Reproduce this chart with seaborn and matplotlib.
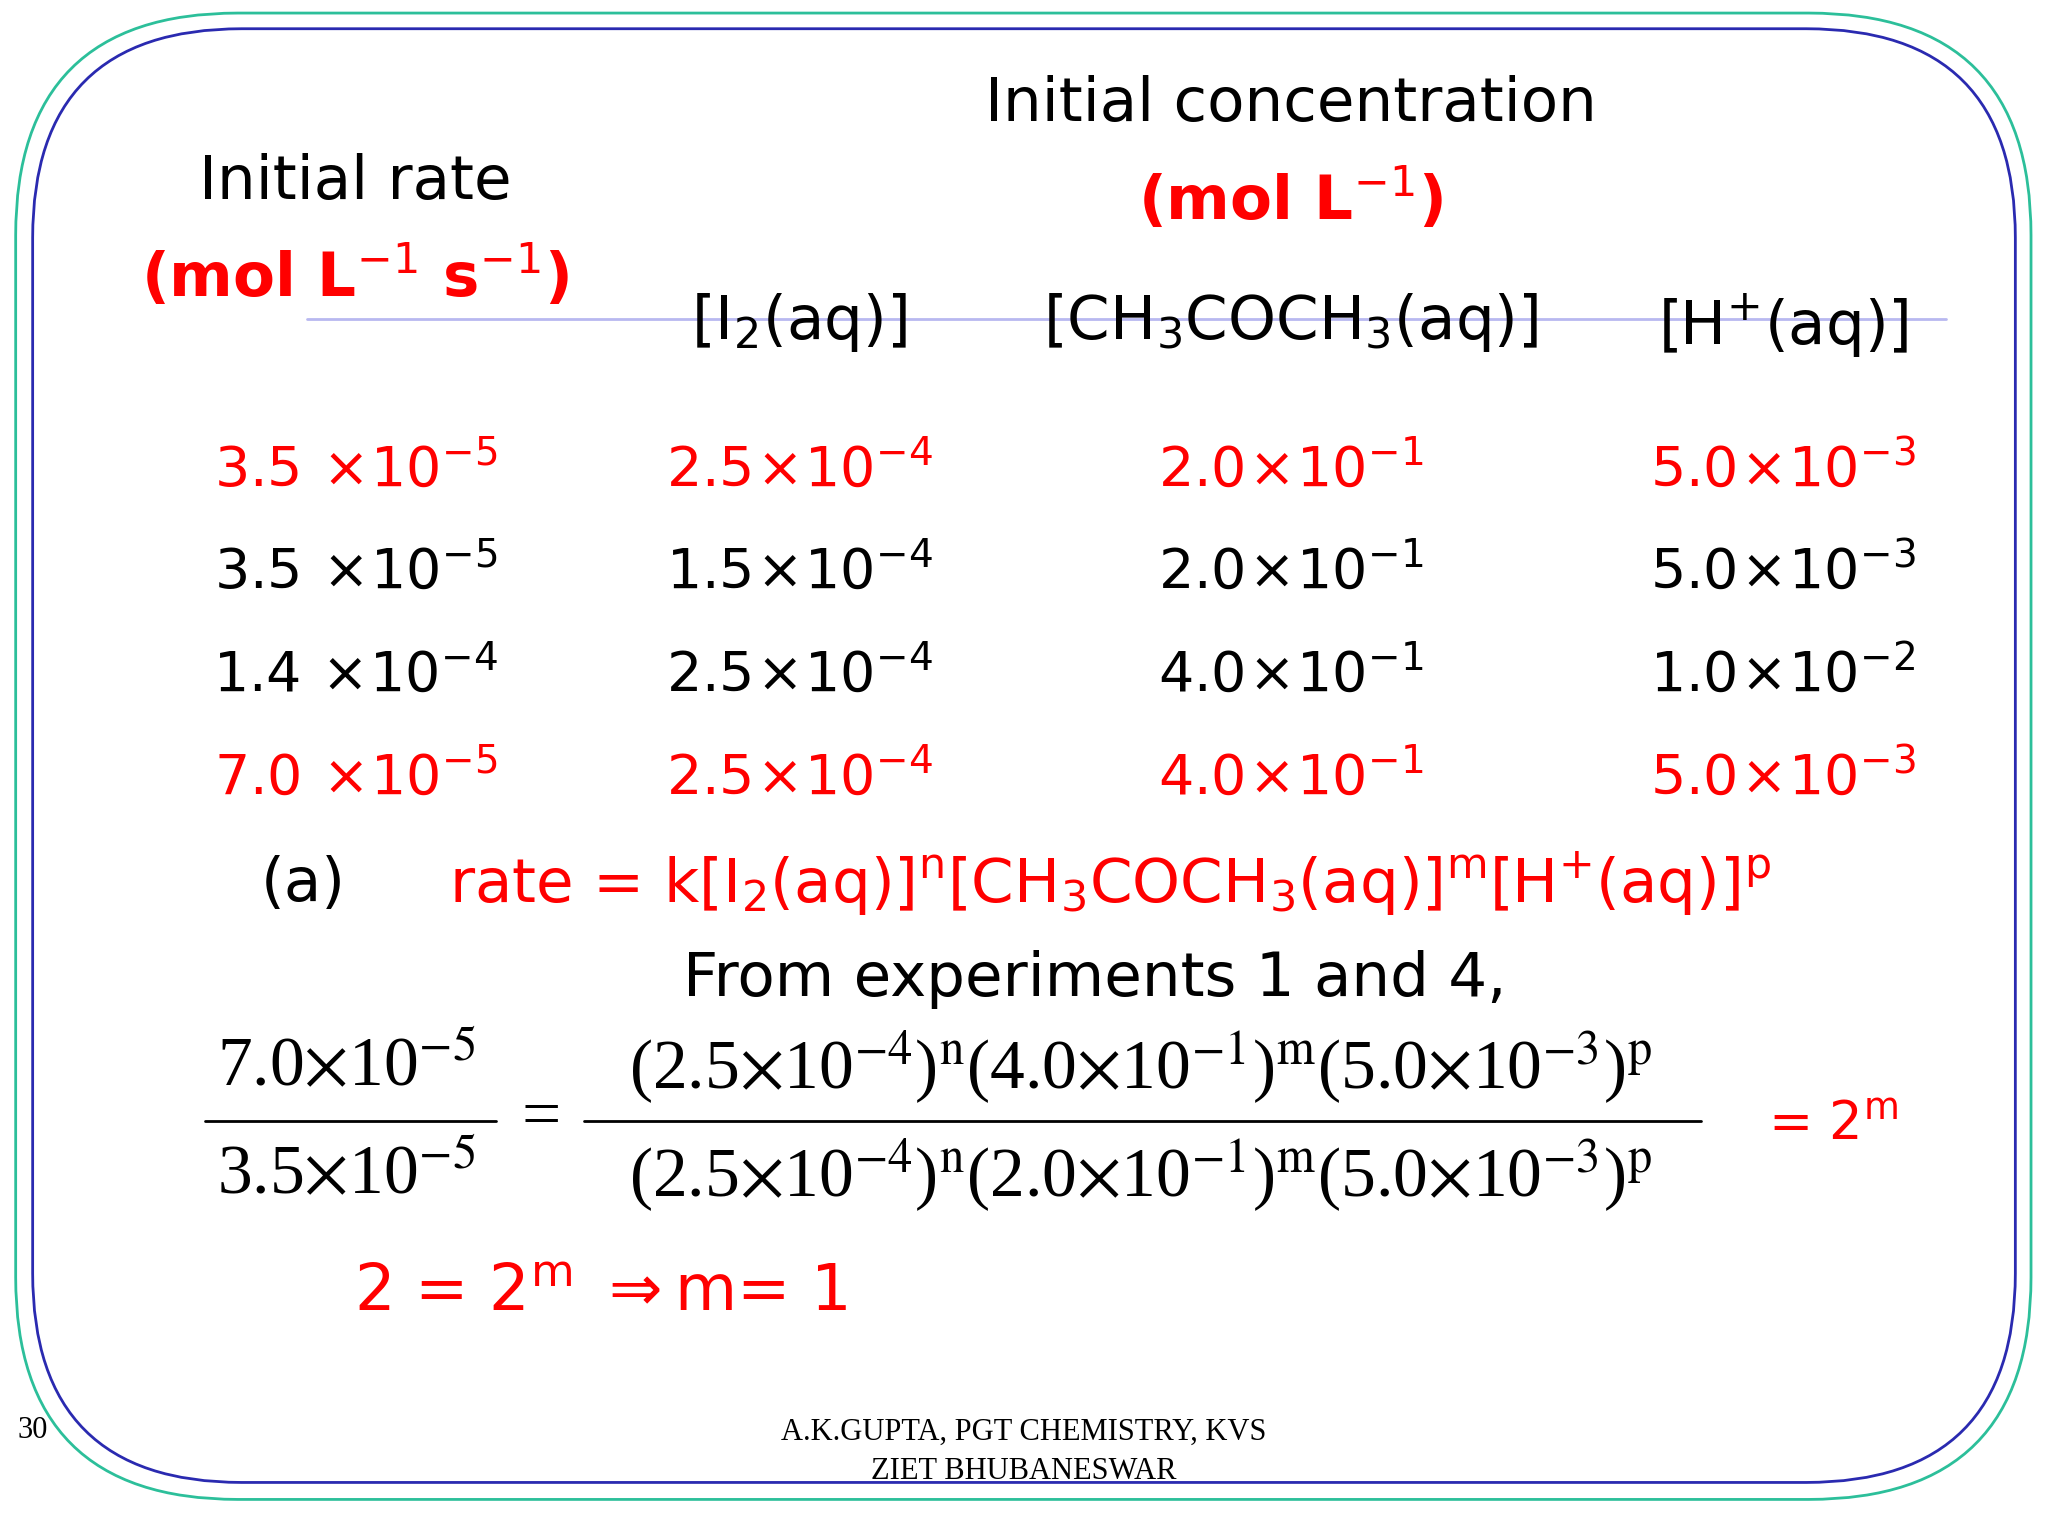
import matplotlib
matplotlib.use("Agg")
import matplotlib.pyplot as plt
import seaborn as sns
from matplotlib.patches import FancyBboxPatch

sns.set_theme(style="white")
plt.rcParams['font.family'] = ['DejaVu Sans']
plt.rcParams['mathtext.fontset'] = 'dejavusans'
plt.rcParams['text.color'] = 'black'

rates = ["3.5", "3.5", "1.4", "7.0"]
rate_exp = ["-5", "-5", "-4", "-5"]
i2 = ["2.5", "1.5", "2.5", "2.5"]
i2_exp = ["-4", "-4", "-4", "-4"]
acet = ["2.0", "2.0", "4.0", "4.0"]
acet_exp = ["-1", "-1", "-1", "-1"]
hplus = ["5.0", "5.0", "1.0", "5.0"]
hplus_exp = ["-3", "-3", "-2", "-3"]
row_colors = ["red", "black", "black", "red"]

fig = plt.figure(figsize=(20.48, 15.36), dpi=100)
ax = fig.add_axes([0, 0, 1, 1])
ax.set_xlim(0, 1568); ax.set_ylim(1176, 0); ax.axis("off")

ax.add_patch(FancyBboxPatch((12, 10), 1543, 1138, boxstyle="round,pad=0,rounding_size=170",
                            fill=False, ec="#2cbf9a", lw=2))
ax.add_patch(FancyBboxPatch((25, 22), 1518, 1113, boxstyle="round,pad=0,rounding_size=160",
                            fill=False, ec="#2a2ab0", lw=2))
ax.plot([235, 1490], [244, 244], color="#b8b8f0", lw=2)

fs = 44
ax.text(272, 140, "Initial rate", ha="center", va="center", fontsize=fs)
ax.text(272, 212, r"(mol L$^{-1}$ s$^{-1}$)", ha="center", va="center", fontsize=fs, color="red", weight="bold")
ax.text(988, 80, "Initial concentration", ha="center", va="center", fontsize=fs)
ax.text(988, 153, r"(mol L$^{-1}$)", ha="center", va="center", fontsize=fs, color="red", weight="bold")
ax.text(612, 247, r"[I$_2$(aq)]", ha="center", va="center", fontsize=fs)
ax.text(988, 247, r"[CH$_3$COCH$_3$(aq)]", ha="center", va="center", fontsize=fs)
ax.text(1365, 250, r"[H$^{+}$(aq)]", ha="center", va="center", fontsize=fs)

ys = [360, 438, 517, 596]
cols = [(272, rates, rate_exp, r"\,\times\!"), (612, i2, i2_exp, r"\!\times\!"),
        (988, acet, acet_exp, r"\!\times\!"), (1365, hplus, hplus_exp, r"\!\times\!")]
for y, c, k in zip(ys, row_colors, range(4)):
    for x, vals, exps, sep in cols:
        ax.text(x, y, rf"${vals[k]}{sep}10^{{{exps[k]}}}$", ha="center", va="center",
                fontsize=40, color=c)

ax.text(232, 677, "(a)", ha="center", va="center", fontsize=fs)
ax.text(850, 677, r"rate = k[I$_2$(aq)]$^{\mathrm{n}}$[CH$_3$COCH$_3$(aq)]$^{\mathrm{m}}$[H$^{+}$(aq)]$^{\mathrm{p}}$",
        ha="center", va="center", fontsize=fs, color="red")
ax.text(838, 750, "From experiments 1 and 4,", ha="center", va="center", fontsize=fs)

serif = dict(fontsize=50, family="Liberation Serif", va="center", ha="center", math_fontfamily="stix")
ax.text(265, 818, r"7.0$\times$10$^{\mathrm{-5}}$", **serif)
ax.text(265, 900, r"3.5$\times$10$^{\mathrm{-5}}$", **serif)
ax.plot([157, 380], [858, 858], color="black", lw=2)
ax.text(414, 858, "=", **serif)
ax.plot([447, 1302], [858, 858], color="black", lw=2)
ax.text(873, 818, r"(2.5$\times$10$^{\mathrm{-4}}$)$^{\mathrm{n}}$(4.0$\times$10$^{\mathrm{-1}}$)$^{\mathrm{m}}$(5.0$\times$10$^{\mathrm{-3}}$)$^{\mathrm{p}}$",
        **serif)
ax.text(873, 900, r"(2.5$\times$10$^{\mathrm{-4}}$)$^{\mathrm{n}}$(2.0$\times$10$^{\mathrm{-1}}$)$^{\mathrm{m}}$(5.0$\times$10$^{\mathrm{-3}}$)$^{\mathrm{p}}$",
        **serif)
ax.text(1403, 862, r"= 2$^{\mathrm{m}}$", ha="center", va="center", fontsize=38, color="red")
ax.text(460, 990, r"2 = 2$^{\mathrm{m}}$ $\Rightarrow$m= 1", ha="center", va="center", fontsize=46, color="red")

ax.text(25, 1095, "30", ha="center", va="center", fontsize=22, family="Liberation Serif")
ax.text(784, 1097, "A.K.GUPTA, PGT CHEMISTRY, KVS", ha="center", va="center", fontsize=22, family="Liberation Serif")
ax.text(784, 1127, "ZIET BHUBANESWAR", ha="center", va="center", fontsize=22, family="Liberation Serif")

fig.savefig("out.png", dpi=100, facecolor="white")
